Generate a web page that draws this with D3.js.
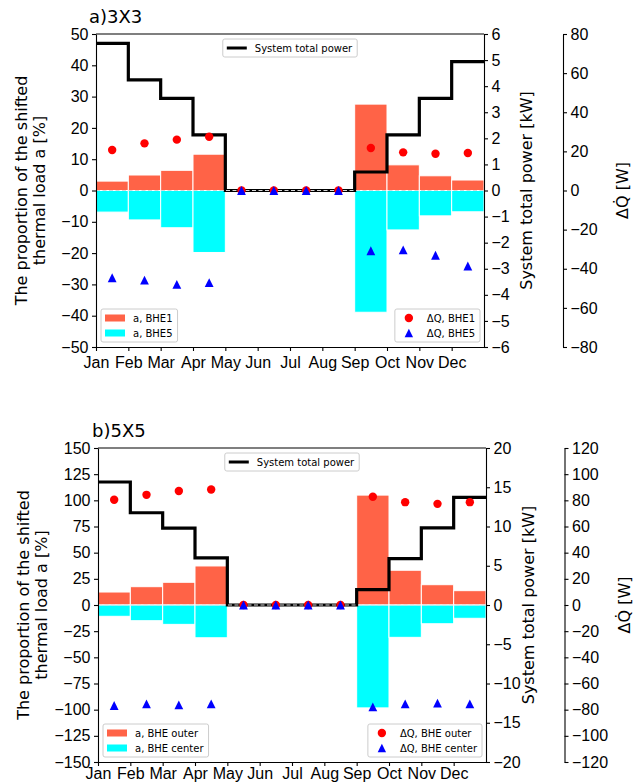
<!DOCTYPE html>
<html>
<head>
<meta charset="utf-8">
<script src="https://cdn.jsdelivr.net/npm/d3@7"></script>
<style>
	body { margin: 0; background: #fff; }
	svg { display: block; font-family: "DejaVu Sans", sans-serif; }
	.tick text { font-size: 16px; fill: #000; }
	.tick line, .domain { stroke: #000; stroke-width: 1.1; }
	.legend-text { font-size: 10px; }
</style>
</head>
<body>
<svg id="chart" width="633" height="784"></svg>
<script>
const months = ["Jan", "Feb", "Mar", "Apr", "May", "Jun", "Jul", "Aug", "Sep", "Oct", "Nov", "Dec"];

// a) 3X3
const powerA = [5.64, 4.24, 3.53, 2.13, 0, 0, 0, 0, 0.71, 2.13, 3.53, 4.94];
const aBHE1 = [3.0, 4.95, 6.45, 11.6, 0, 0, 0, 0, 27.6, 8.2, 4.7, 3.35];
const aBHE5 = [-6.9, -9.4, -11.9, -19.8, 0, 0, 0, 0, -38.9, -12.6, -8.1, -6.8];
const dqBHE1 = [20.7, 24.1, 26.0, 27.5, 0, 0, 0, 0, 21.7, 19.5, 18.8, 19.2];
const dqBHE5 = [-44.6, -45.8, -48.0, -47.1, 0, 0, 0, 0, -30.8, -30.4, -33.1, -38.6];

// b) 5X5
const powerB = [15.67, 11.75, 9.8, 6.0, 0, 0, 0, 0, 1.95, 5.9, 9.83, 13.7];
const aOuter = [12.4, 17.5, 21.7, 37.3, 0, 0, 0, 0, 105, 33.2, 19.4, 13.7];
const aCenter = [-10.8, -15, -18.5, -31.3, 0, 0, 0, 0, -98.3, -30.9, -17.9, -12.7];
const dqOuter = [80.4, 84.2, 87.1, 88.3, 0, 0, 0, 0, 82.7, 78.6, 77.3, 78.6];
const dqCenter = [-76.8, -75.6, -76.3, -75.6, 0, 0, 0, 0, -77.9, -75.6, -75.0, -75.6];

const svg = d3.select("#chart");

const triangle = r => `M0,${-r}L${r},${r}L${-r},${r}Z`;

function drawLegend(g, items, pos) {
	const lg = g.append("g");
	const rowH = 15;
	const texts = items.map((it, i) =>
		lg.append("text")
			.attr("class", "legend-text")
			.attr("x", 0)
			.attr("y", 3 + i * rowH + 9.5)
			.text(it.label)
	);
	const tw = d3.max(texts, t => t.node().getComputedTextLength());
	const w = 4 + 20 + 8 + tw + 5;
	const h = items.length * rowH + 3;
	let left, top;
	if (pos.type === "upper center") { left = pos.cx - w / 2; top = pos.top; }
	if (pos.type === "lower left") { left = pos.left; top = pos.bottom - h; }
	if (pos.type === "lower right") { left = pos.right - w; top = pos.bottom - h; }

	lg.insert("rect", ":first-child")
		.attr("x", 0).attr("y", 0)
		.attr("width", w).attr("height", h)
		.attr("rx", 2)
		.attr("fill", "#fff").attr("fill-opacity", 0.8)
		.attr("stroke", "#ccc").attr("stroke-width", 1);

	items.forEach((it, i) => {
		const cy = 3 + i * rowH + 6;
		if (it.kind === "line") {
			lg.append("line")
				.attr("x1", 4).attr("x2", 24)
				.attr("y1", cy).attr("y2", cy)
				.attr("stroke", it.color).attr("stroke-width", 3);
		} else if (it.kind === "patch") {
			lg.append("rect")
				.attr("x", 4).attr("y", cy - 3.5)
				.attr("width", 20).attr("height", 7)
				.attr("fill", it.color);
		} else if (it.kind === "circle") {
			lg.append("circle")
				.attr("cx", 14).attr("cy", cy).attr("r", 4.2)
				.attr("fill", it.color);
		} else {
			lg.append("path")
				.attr("d", triangle(4.2))
				.attr("transform", `translate(14, ${cy})`)
				.attr("fill", it.color);
		}
	});
	texts.forEach(t => t.attr("x", 32));
	lg.attr("transform", `translate(${left}, ${top})`);
}

function drawPanel(cfg) {
	const { x0, x1, y0, y1, ax3 } = cfg;
	const g = svg.append("g");

	const x = d3.scaleLinear().domain([0, 12]).range([x0, x1]);
	const yL = d3.scaleLinear().domain(cfg.leftDomain).range([y1, y0]);
	const yR = d3.scaleLinear().domain(cfg.rightDomain).range([y1, y0]);
	const yQ = d3.scaleLinear().domain(cfg.qDomain).range([y1, y0]);

	// bars
	const bars = (vals, color) => g.append("g")
		.selectAll("rect")
		.data(vals)
		.join("rect")
		.attr("x", (d, i) => x(i))
		.attr("width", x(1) - x(0))
		.attr("y", d => yL(Math.max(0, d)))
		.attr("height", d => Math.abs(yL(d) - yL(0)))
		.attr("fill", color)
		.attr("stroke", "#fff")
		.attr("stroke-width", 1);
	bars(cfg.posBars, "#ff6347");
	bars(cfg.negBars, "#00ffff");

	// system total power, step line
	const stepData = cfg.power.map((d, i) => [i, d]).concat([[12, cfg.power[11]]]);
	g.append("path")
		.datum(stepData)
		.attr("fill", "none")
		.attr("stroke", "#000")
		.attr("stroke-width", 3.2)
		.attr("d", d3.line().curve(d3.curveStepAfter).x(d => x(d[0])).y(d => yR(d[1])));

	// dashed zero line
	g.append("line")
		.attr("x1", x0).attr("x2", x1)
		.attr("y1", yL(0)).attr("y2", yL(0))
		.attr("stroke", "#d8d8d8")
		.attr("stroke-width", 1.2)
		.attr("stroke-dasharray", "4,2.5");

	// delta Q markers
	g.append("g").selectAll("circle")
		.data(cfg.qPos)
		.join("circle")
		.attr("cx", (d, i) => x(i + 0.5))
		.attr("cy", d => yQ(d))
		.attr("r", 4.2)
		.attr("fill", "#ff0000");
	g.append("g").selectAll("path")
		.data(cfg.qNeg)
		.join("path")
		.attr("d", triangle(4.4))
		.attr("transform", (d, i) => `translate(${x(i + 0.5)}, ${yQ(d)})`)
		.attr("fill", "#0000ff");

	// axes
	g.append("g")
		.attr("transform", `translate(${x0}, 0)`)
		.call(d3.axisLeft(yL).tickValues(cfg.leftTicks).tickSize(4).tickPadding(3.5).tickSizeOuter(0));
	g.append("g")
		.attr("transform", `translate(${x1}, 0)`)
		.call(d3.axisRight(yR).tickValues(cfg.rightTicks).tickSize(4).tickPadding(3.5).tickSizeOuter(0));
	g.append("g")
		.attr("transform", `translate(${ax3}, 0)`)
		.call(d3.axisRight(yQ).tickValues(cfg.qTicks).tickSize(4).tickPadding(3.5).tickSizeOuter(0));
	g.append("g")
		.attr("transform", `translate(0, ${y1})`)
		.call(d3.axisBottom(x).tickValues(d3.range(12)).tickFormat(i => months[i]).tickSize(4).tickPadding(cfg.monthPad).tickSizeOuter(0));
	g.append("line")
		.attr("x1", x0).attr("x2", x1)
		.attr("y1", y0).attr("y2", y0)
		.attr("stroke", "#000").attr("stroke-width", 1.1);

	// titles and labels
	g.append("text")
		.attr("x", cfg.titleX).attr("y", y0 - 11)
		.attr("font-size", 18)
		.text(cfg.title);

	const ym = (y0 + y1) / 2;
	const lab = g.append("text")
		.attr("transform", `translate(${x0 - 69}, ${ym}) rotate(-90)`)
		.attr("text-anchor", "middle")
		.attr("font-size", 16);
	lab.append("tspan").attr("x", 0).attr("dy", 0).text("The proportion of the shifted");
	lab.append("tspan").attr("x", 0).attr("dy", "1.15em").text("thermal load a [%]");

	g.append("text")
		.attr("transform", `translate(${x1 + 48}, ${ym}) rotate(-90)`)
		.attr("text-anchor", "middle")
		.attr("font-size", 16)
		.text("System total power [kW]");

	g.append("text")
		.attr("transform", `translate(${ax3 + 65}, ${ym}) rotate(-90)`)
		.attr("text-anchor", "middle")
		.attr("font-size", 16)
		.text("\u0394Q\u0307 [W]");

	// legends
	drawLegend(g, [{ kind: "line", color: "#000", label: "System total power" }],
		{ type: "upper center", cx: (x0 + x1) / 2, top: y0 + 5 });
	drawLegend(g, [
		{ kind: "patch", color: "#ff6347", label: cfg.barLabels[0] },
		{ kind: "patch", color: "#00ffff", label: cfg.barLabels[1] }
	], { type: "lower left", left: x0 + 5, bottom: y1 - 5 });
	drawLegend(g, [
		{ kind: "circle", color: "#ff0000", label: cfg.qLabels[0] },
		{ kind: "triangle", color: "#0000ff", label: cfg.qLabels[1] }
	], { type: "lower right", right: x1 - 4, bottom: y1 - 5 });
}

drawPanel({
	title: "a)3X3", titleX: 89,
	x0: 96, x1: 484, y0: 34, y1: 347, ax3: 563, monthPad: 6,
	leftDomain: [-50, 50], leftTicks: d3.range(-50, 51, 10),
	rightDomain: [-6, 6], rightTicks: d3.range(-6, 7, 1),
	qDomain: [-80, 80], qTicks: d3.range(-80, 81, 20),
	posBars: aBHE1, negBars: aBHE5, power: powerA,
	qPos: dqBHE1, qNeg: dqBHE5,
	barLabels: ["a, BHE1", "a, BHE5"],
	qLabels: ["\u0394Q, BHE1", "\u0394Q, BHE5"]
});

drawPanel({
	title: "b)5X5", titleX: 92,
	x0: 98, x1: 486, y0: 448, y1: 762, ax3: 564.5, monthPad: 2,
	leftDomain: [-150, 150], leftTicks: d3.range(-150, 151, 25),
	rightDomain: [-20, 20], rightTicks: d3.range(-20, 21, 5),
	qDomain: [-120, 120], qTicks: d3.range(-120, 121, 20),
	posBars: aOuter, negBars: aCenter, power: powerB,
	qPos: dqOuter, qNeg: dqCenter,
	barLabels: ["a, BHE outer", "a, BHE center"],
	qLabels: ["\u0394Q, BHE outer", "\u0394Q, BHE center"]
});
</script>
</body>
</html>
